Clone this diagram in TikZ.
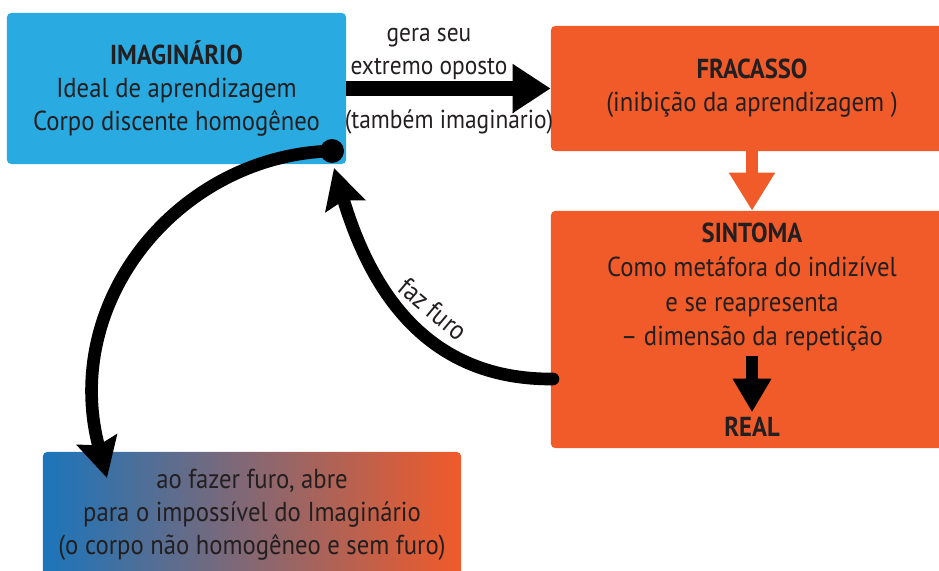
\documentclass[tikz,border=0pt]{standalone}
\usepackage{fontspec}
\setmainfont{PT Sans}[FakeStretch=0.9]
\usetikzlibrary{arrows.meta}

\definecolor{imgblue}{HTML}{29ABE2}
\definecolor{fracorange}{HTML}{F15A29}
\definecolor{gradblue}{HTML}{1B75BB}
\definecolor{inkgray}{HTML}{231F20}

\tikzset{
  box/.style={rounded corners=3pt, align=center, text=inkgray, inner sep=0pt,
    font=\fontsize{19.5}{23.5}\selectfont},
  lbl/.style={align=center, text=inkgray, font=\fontsize{19.5}{23.5}\selectfont},
  thickarrow/.style={line width=10pt, -{Triangle[length=27pt,width=33pt]}},
  curvearrow/.style={line width=9pt, line cap=round,
    -{Stealth[length=28pt,width=29pt,inset=4pt]}},
}

\begin{document}
\begin{tikzpicture}[x=0.025cm, y=-0.025cm]
    \clip (0,0) rectangle (939,571);

    % boxes
    \node[box, fill=imgblue, minimum width=8.475cm, minimum height=3.775cm] (img) at (176.5,88.5)
        {\textbf{IMAGINÁRIO}\\Ideal de aprendizagem\\Corpo discente homogêneo};
    \node[box, fill=fracorange, minimum width=10.05cm, minimum height=3.125cm] (frac) at (752,88.5)
        {\textbf{FRACASSO}\\(inibição da aprendizagem )};
    \node[box, fill=fracorange, minimum width=10.05cm, minimum height=5.925cm] (sint) at (752,329.5) {};
    \node[box, left color=gradblue, right color=fracorange, minimum width=10.45cm, minimum height=3.15cm] (grad) at (252,515)
        {ao fazer furo, abre\\para o impossível do Imaginário\\(o corpo não homogêneo e sem furo)};

    \node[lbl, font=\fontsize{19.5}{24.4}\selectfont] (sinttxt) at (752,287)
        {\textbf{SINTOMA}\\Como metáfora do indizível\\e se reapresenta\\– dimensão da repetição};
    \node[lbl] (real) at (752,427) {\textbf{REAL}};

    \node[lbl, font=\fontsize{18.5}{23.5}\selectfont] (gera) at (429,54) {gera seu\\extremo oposto};
    \node[lbl, font=\fontsize{18.5}{23.5}\selectfont] (tambem) at (449,122) {(também imaginário)};

    % arrows
    \draw[thickarrow] (img.east) -- (frac.west);
    \draw[fracorange, line width=8pt, -{Triangle[length=27pt,width=31pt]}] (frac.south) -- (sint.north);
    \draw[line width=8.5pt, -{Triangle[length=24pt,width=26pt]}] (sinttxt.south) -- (real.north);

    \coordinate (dot) at (332,151);
    \coordinate (furo) at (553,379);
    \coordinate (dotin) at (334,168);
    \coordinate (gradin) at (107,478);

    \draw[curvearrow] (furo) .. controls (430,380) and (372,295) .. (dotin);
    \draw[curvearrow] (dot) .. controls (180,155) and (60,300) .. (gradin);
    \fill (dot) circle (12);

    \node[lbl, rotate=-40] (fazfuro) at (433,309) {faz furo};
\end{tikzpicture}
\end{document}
